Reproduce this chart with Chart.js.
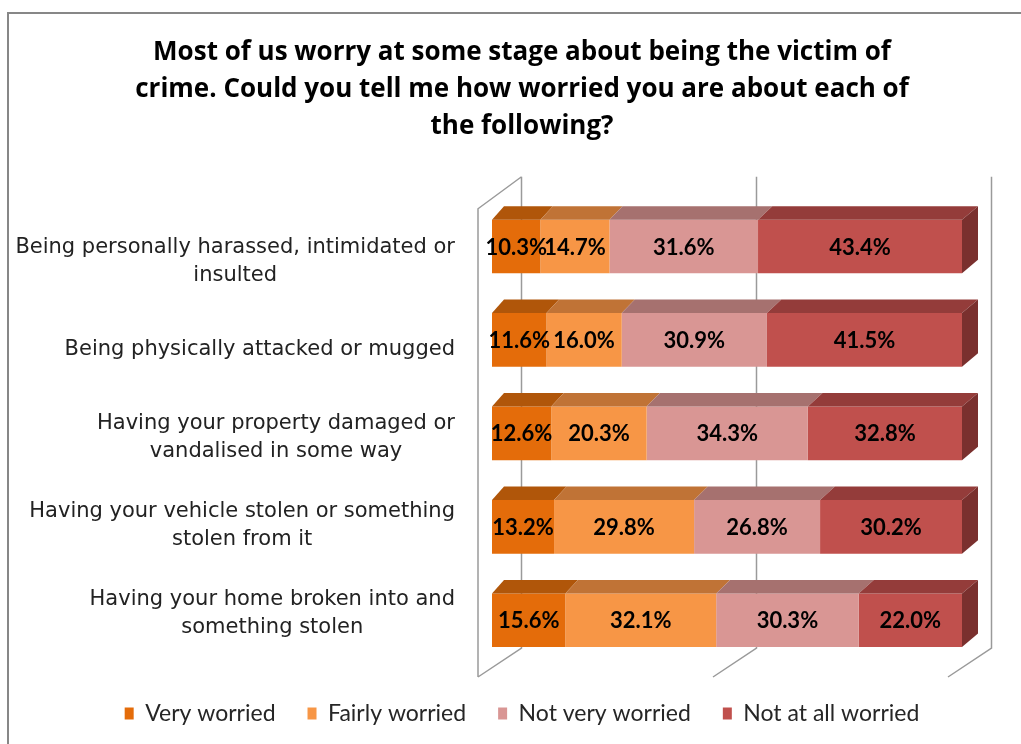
<!DOCTYPE html>
<html>
<head>
<meta charset="utf-8">
<script src="https://cdn.jsdelivr.net/npm/chart.js@4.4.1/dist/chart.umd.min.js"></script>
<style>
  html, body { margin: 0; padding: 0; background: #fff; overflow: hidden; }
  body { width: 1021px; height: 744px; position: relative; }
  #frame { position: absolute; left: 7px; top: 12px; width: 1100px; height: 800px;
           border: 2px solid #878787; box-sizing: border-box; }
  #wrap { position: absolute; left: 7px; top: 0; width: 1030px; height: 744px; }
</style>
</head>
<body>
<div id="frame"></div>
<div id="wrap"><canvas id="chart" width="1030" height="744"></canvas></div>
<script>
const FONT = 'Lato, "DejaVu Sans", sans-serif';
const LABEL_FONT = '"DejaVu Sans", sans-serif';
const TITLE_FONT = '"Open Sans", Lato, sans-serif';

const TITLE = [
  'Most of us worry at some stage about being the victim of',
  'crime. Could you tell me how worried you are about each of',
  'the following?',
];

const CATEGORIES = [
  ['Being personally harassed, intimidated or', 'insulted'],
  ['Being physically attacked or mugged'],
  ['Having your property damaged or', 'vandalised in some way'],
  ['Having your vehicle stolen or something', 'stolen from it'],
  ['Having your home broken into and', 'something stolen'],
];

const SERIES = ['Very worried', 'Fairly worried', 'Not very worried', 'Not at all worried'];

const VERY_WORRIED       = [10.3, 11.6, 12.6, 13.2, 15.6];
const FAIRLY_WORRIED     = [14.7, 16.0, 20.3, 29.8, 32.1];
const NOT_VERY_WORRIED   = [31.6, 30.9, 34.3, 26.8, 30.3];
const NOT_AT_ALL_WORRIED = [43.4, 41.5, 32.8, 30.2, 22.0];

const GRID_VALUES = [0, 50, 100];

// front / top / side shades for each series
const FRONT = ['#E46C0A', '#F79646', '#D99694', '#C0504D'];
const TOP   = ['#B0560A', '#C07336', '#A6716F', '#943C3A'];
const SIDE  = ['#8E4508', '#9A5C2B', '#855A58', '#7A302E'];

const DEPTH_Y = 13.5;
function depthX(x, area) {
  // bars get a touch deeper toward the right (perspective)
  return 12 + 4 * (x - area.left) / (area.right - area.left);
}

const box3d = {
  id: 'box3d',
  beforeDatasetsDraw(chart) {
    const {ctx, chartArea: a, scales: {x}} = chart;
    const backTop = a.top - 23, backBottom = a.bottom - 19;
    const frontTop = a.top + 9, frontBottom = a.bottom + 10;
    const back = v => x.getPixelForValue(v) + 29.5;
    const front = v => x.getPixelForValue(v) - 14;
    ctx.save();
    ctx.strokeStyle = '#9a9a9a';
    ctx.lineWidth = 1.5;
    ctx.beginPath();
    GRID_VALUES.forEach(v => {
      ctx.moveTo(back(v), backTop);
      ctx.lineTo(back(v), backBottom);
      ctx.lineTo(front(v), frontBottom);
    });
    // left side wall
    ctx.moveTo(back(0), backTop);
    ctx.lineTo(front(0), frontTop);
    ctx.lineTo(front(0), frontBottom);
    ctx.stroke();
    ctx.restore();
  },
  afterDatasetsDraw(chart) {
    const {ctx, chartArea: a} = chart;
    const last = chart.data.datasets.length - 1;
    ctx.save();
    chart.data.datasets.forEach((ds, di) => {
      chart.getDatasetMeta(di).data.forEach(el => {
        const x1 = el.base, x2 = el.x;
        const yt = el.y - el.height / 2, yb = el.y + el.height / 2;
        ctx.fillStyle = TOP[di];
        ctx.beginPath();
        ctx.moveTo(x1, yt);
        ctx.lineTo(x2, yt);
        ctx.lineTo(x2 + depthX(x2, a), yt - DEPTH_Y);
        ctx.lineTo(x1 + depthX(x1, a), yt - DEPTH_Y);
        ctx.closePath();
        ctx.fill();
        if (di === last) {
          const d = depthX(x2, a);
          ctx.fillStyle = SIDE[di];
          ctx.beginPath();
          ctx.moveTo(x2, yt);
          ctx.lineTo(x2 + d, yt - DEPTH_Y);
          ctx.lineTo(x2 + d, yb - DEPTH_Y);
          ctx.lineTo(x2, yb);
          ctx.closePath();
          ctx.fill();
        }
      });
    });

    // value labels on the front faces
    ctx.fillStyle = '#000';
    ctx.font = 'bold 22px ' + FONT;
    ctx.textAlign = 'center';
    ctx.textBaseline = 'middle';
    chart.data.datasets.forEach((ds, di) => {
      chart.getDatasetMeta(di).data.forEach((el, i) => {
        ctx.fillText(ds.data[i].toFixed(1) + '%', (el.x + el.base) / 2, el.y + 1);
      });
    });

    // category labels: lines centred on each other, block right-aligned
    const y = chart.scales.y;
    const mid = (a.top + a.bottom) / 2;
    const right = 448;
    ctx.font = '21px ' + LABEL_FONT;
    ctx.fillStyle = '#222';
    CATEGORIES.forEach((lines, i) => {
      const cy = mid + 4 + (y.getPixelForValue(i) - mid) * 0.94;
      const w = Math.max(...lines.map(l => ctx.measureText(l).width));
      const cx = right - w / 2;
      lines.forEach((l, k) => {
        ctx.fillText(l, cx, cy + (k - (lines.length - 1) / 2) * 28);
      });
    });
    ctx.restore();
  },
};

const values = [VERY_WORRIED, FAIRLY_WORRIED, NOT_VERY_WORRIED, NOT_AT_ALL_WORRIED];

// invisible axes that only reserve room beside the plot
const hiddenAxis = size => ({
  display: true,
  grid: {display: false},
  border: {display: false},
  ticks: {display: false},
  afterFit(scale) {
    if (scale.isHorizontal()) scale.height = size;
    else scale.width = size;
  },
});

new Chart(document.getElementById('chart'), {
  type: 'bar',
  data: {
    labels: CATEGORIES,
    datasets: SERIES.map((name, i) => ({
      label: name,
      data: values[i],
      backgroundColor: FRONT[i],
      borderWidth: 0,
      barPercentage: 0.574,
      categoryPercentage: 1,
    })),
  },
  options: {
    indexAxis: 'y',
    responsive: false,
    animation: false,
    layout: {padding: {left: 0, right: 0, top: 0, bottom: 9}},
    scales: {
      x: {stacked: true, min: 0, max: 100, position: 'bottom', ...hiddenAxis(3)},
      y: {stacked: true, position: 'left', ...hiddenAxis(485)},
      yRight: {type: 'category', position: 'right', ...hiddenAxis(75)},
    },
    plugins: {
      tooltip: {enabled: false},
      title: {
        display: true,
        text: TITLE,
        color: '#000',
        font: {family: TITLE_FONT, size: 26, weight: 'bold', lineHeight: 1.42},
        padding: {top: 34, bottom: 55},
      },
      legend: {
        position: 'bottom',
        labels: {
          boxWidth: 9,
          boxHeight: 12,
          padding: 32,
          color: '#262626',
          font: {family: FONT, size: 23},
        },
      },
    },
  },
  plugins: [box3d],
});
</script>
</body>
</html>
